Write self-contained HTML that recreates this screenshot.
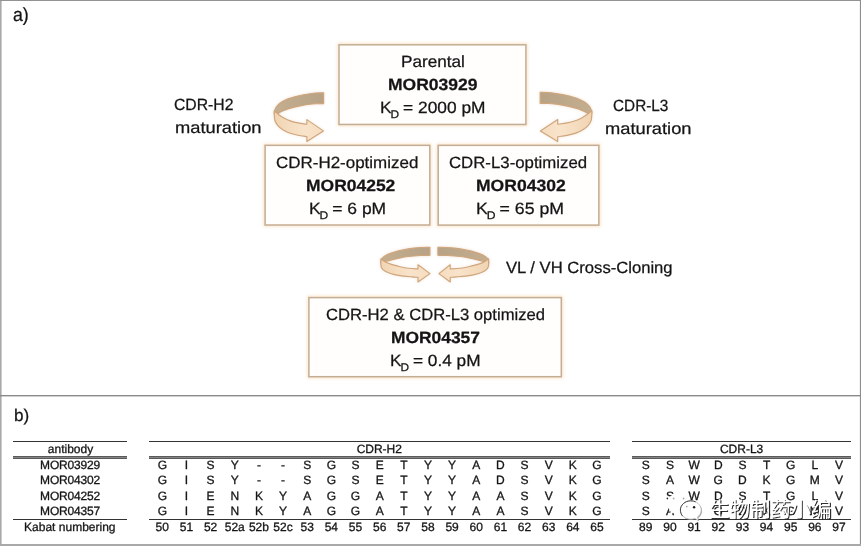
<!DOCTYPE html>
<html><head><meta charset="utf-8"><title>Affinity maturation</title>
<style>
html,body{margin:0;padding:0;background:#fff;}
body{width:861px;height:546px;position:relative;overflow:hidden;font-family:"Liberation Sans",sans-serif;color:#1a1a1a;}
.t{position:absolute;white-space:nowrap;font-size:16.8px;line-height:20px;color:#141414;transform-origin:0 0;-webkit-text-stroke:0.25px #141414;text-rendering:geometricPrecision;}
.t b{font-weight:bold;}
.t sub{font-size:11.2px;vertical-align:baseline;position:relative;top:4.9px;line-height:0;margin:0 -0.8px 0 -1px;}
.c{position:absolute;width:40px;text-align:center;font-size:12px;line-height:14px;white-space:nowrap;color:#151515;-webkit-text-stroke:0.3px #151515;text-rendering:geometricPrecision;}
.w{width:120px;margin-left:-40px;}
.nm{letter-spacing:-0.2px;}
.ln{position:absolute;background:#333;}
svg{position:absolute;left:0;top:0;}
</style></head><body>
<svg width="861" height="546" viewBox="0 0 861 546"><rect x="0" y="0" width="861" height="546" fill="#fff"/><rect x="0" y="0" width="1.6" height="546" fill="#a9a9a9"/><rect x="859.9" y="0" width="1.1" height="546" fill="#8e8e8e"/><rect x="0" y="0" width="861" height="1" fill="#929292"/><rect x="0" y="544" width="861" height="2" fill="#a9a9a9"/><rect x="0" y="395.0" width="861" height="1.4" fill="#8a8a8a"/></svg>

<svg width="861" height="546" viewBox="0 0 861 546"><defs><filter id="gl" x="-10%" y="-10%" width="120%" height="120%"><feGaussianBlur stdDeviation="1.6"/></filter></defs>
<g fill="#fffdfa" stroke="#f6cfa0" stroke-width="3.5" opacity=".55" filter="url(#gl)"><rect x="339.0" y="44.8" width="186.90" height="79.65"/><rect x="265.1" y="145.35" width="164.70" height="79.65"/><rect x="438.2" y="145.35" width="160.65" height="79.75"/><rect x="308.9" y="297.6" width="252.40" height="79.10"/></g>
<g fill="#fffefc" stroke="#c4ad93" stroke-width="1.5"><rect x="339.0" y="44.8" width="186.90" height="79.65"/><rect x="265.1" y="145.35" width="164.70" height="79.65"/><rect x="438.2" y="145.35" width="160.65" height="79.75"/><rect x="308.9" y="297.6" width="252.40" height="79.10"/></g></svg>
<svg width="861" height="546" viewBox="0 0 861 546"><defs><filter id="ga" x="-20%" y="-20%" width="140%" height="140%"><feGaussianBlur stdDeviation="1.8"/></filter></defs><g opacity=".35" filter="url(#ga)"><defs><linearGradient id="lgL" x1="0" x2="1" y1="0" y2="0"><stop offset="0" stop-color="#f1d5b3"/><stop offset=".6" stop-color="#f8e3ca"/><stop offset="1" stop-color="#f6dcc0"/></linearGradient><linearGradient id="lgR" x1="1" x2="0" y1="0" y2="0"><stop offset="0" stop-color="#f1d5b3"/><stop offset=".6" stop-color="#f8e3ca"/><stop offset="1" stop-color="#f6dcc0"/></linearGradient><linearGradient id="dgL" x1="0" x2="1" y1="0" y2="0"><stop offset="0" stop-color="#c4ae90"/><stop offset="1" stop-color="#b7a285"/></linearGradient><linearGradient id="dgR" x1="1" x2="0" y1="0" y2="0"><stop offset="0" stop-color="#c4ae90"/><stop offset="1" stop-color="#b7a285"/></linearGradient></defs><path d="M323.60,92.80 C322.33,92.83 318.28,92.85 316.00,93.00 C313.72,93.15 312.37,93.33 309.90,93.70 C307.43,94.07 303.70,94.70 301.20,95.20 C298.70,95.70 296.98,96.13 294.90,96.70 C292.82,97.27 290.77,97.78 288.70,98.60 C286.63,99.42 284.27,100.55 282.50,101.60 C280.73,102.65 279.25,103.80 278.10,104.90 C276.95,106.00 276.20,107.12 275.60,108.20 C275.00,109.28 274.72,110.50 274.50,111.40 C274.28,112.30 274.33,113.23 274.30,113.60 L276.90,114.30 C277.10,114.17 277.17,114.03 278.10,113.50 C279.03,112.97 280.73,111.92 282.50,111.10 C284.27,110.28 286.63,109.28 288.70,108.60 C290.77,107.92 292.82,107.50 294.90,107.00 C296.98,106.50 298.70,106.07 301.20,105.60 C303.70,105.13 307.43,104.51 309.90,104.20 C312.37,103.89 313.72,103.85 316.00,103.75 C318.28,103.65 322.33,103.62 323.60,103.60 Z" fill="url(#dgL)" stroke="#cfa57c" stroke-width="1.15" stroke-linejoin="round"/><path d="M274.30,110.60 L274.20,113.60 C274.32,114.75 274.32,118.55 274.90,120.50 C275.48,122.45 276.43,123.80 277.70,125.30 C278.97,126.80 280.53,128.22 282.50,129.50 C284.47,130.78 286.93,132.05 289.50,133.00 C292.07,133.95 295.00,134.60 297.90,135.20 C300.80,135.80 305.40,136.37 306.90,136.60 L306.90,141.40 L323.40,130.90 L306.90,119.60 L306.90,124.30 C305.40,124.07 300.57,123.43 297.90,122.90 C295.23,122.37 293.23,121.92 290.90,121.10 C288.57,120.28 285.98,119.12 283.90,118.00 C281.82,116.88 279.78,115.40 278.40,114.40 C277.02,113.40 276.28,112.63 275.60,112.00 C274.92,111.37 274.52,110.83 274.30,110.60 Z" fill="url(#lgL)" stroke="#cfa57c" stroke-width="1.15" stroke-linejoin="round"/><path d="M540.20,92.40 C541.53,92.44 545.76,92.45 548.15,92.60 C550.54,92.76 551.96,92.94 554.54,93.31 C557.12,93.68 561.03,94.33 563.64,94.83 C566.26,95.34 568.06,95.78 570.24,96.35 C572.42,96.92 574.56,97.45 576.72,98.27 C578.89,99.10 581.36,100.25 583.21,101.31 C585.06,102.37 586.61,103.54 587.82,104.65 C589.02,105.76 589.81,106.90 590.43,107.99 C591.06,109.09 591.36,110.32 591.59,111.23 C591.81,112.14 591.76,113.09 591.80,113.46 L589.07,114.17 C588.86,114.03 588.80,113.90 587.82,113.36 C586.84,112.82 585.06,111.75 583.21,110.93 C581.36,110.10 578.89,109.09 576.72,108.40 C574.56,107.70 572.42,107.28 570.24,106.78 C568.06,106.27 566.26,105.83 563.64,105.36 C561.03,104.89 557.12,104.25 554.54,103.94 C551.96,103.63 550.54,103.59 548.15,103.49 C545.76,103.39 541.53,103.36 540.20,103.34 Z" fill="url(#dgR)" stroke="#cfa57c" stroke-width="1.15" stroke-linejoin="round"/><path d="M591.80,110.42 L591.90,113.46 C591.78,114.62 591.78,118.47 591.17,120.44 C590.56,122.42 589.56,123.78 588.24,125.30 C586.91,126.82 585.27,128.25 583.21,129.55 C581.16,130.85 578.57,132.14 575.89,133.10 C573.20,134.06 570.13,134.72 567.10,135.32 C564.06,135.93 559.25,136.50 557.68,136.74 L557.68,141.60 L540.41,130.97 L557.68,119.53 L557.68,124.29 C559.25,124.05 564.31,123.41 567.10,122.87 C569.89,122.33 571.98,121.88 574.42,121.05 C576.86,120.22 579.57,119.04 581.75,117.91 C583.93,116.78 586.06,115.28 587.50,114.27 C588.95,113.26 589.72,112.48 590.43,111.84 C591.15,111.20 591.57,110.66 591.80,110.42 Z" fill="url(#lgR)" stroke="#cfa57c" stroke-width="1.15" stroke-linejoin="round"/><path d="M429.90,247.20 C428.30,247.25 423.92,247.22 420.30,247.50 C416.68,247.78 411.83,248.33 408.20,248.90 C404.57,249.47 401.45,250.15 398.50,250.90 C395.55,251.65 392.77,252.55 390.50,253.40 C388.23,254.25 386.33,255.12 384.90,256.00 C383.47,256.88 382.57,257.82 381.90,258.70 C381.23,259.58 381.08,260.58 380.90,261.30 C380.72,262.02 380.82,262.72 380.80,263.00 L383.20,262.20 C383.48,262.10 383.68,261.95 384.90,261.60 C386.12,261.25 388.23,260.67 390.50,260.10 C392.77,259.53 395.55,258.80 398.50,258.20 C401.45,257.60 404.57,256.95 408.20,256.50 C411.83,256.05 416.68,255.70 420.30,255.50 C423.92,255.30 428.30,255.33 429.90,255.30 Z" fill="url(#dgL)" stroke="#cfa57c" stroke-width="1.15" stroke-linejoin="round"/><path d="M380.90,258.80 L380.80,263.00 C380.85,263.57 380.78,265.35 381.10,266.40 C381.42,267.45 381.67,268.32 382.70,269.30 C383.73,270.28 385.33,271.42 387.30,272.30 C389.27,273.18 391.82,273.97 394.50,274.60 C397.18,275.23 400.45,275.72 403.40,276.10 C406.35,276.48 409.77,276.70 412.20,276.90 C414.63,277.10 417.03,277.23 418.00,277.30 L418.00,282.00 L430.00,273.60 L418.00,264.80 L418.00,269.00 C416.37,268.87 411.17,268.58 408.20,268.20 C405.23,267.82 402.88,267.30 400.20,266.70 C397.52,266.10 394.38,265.28 392.10,264.60 C389.82,263.92 388.05,263.30 386.50,262.60 C384.95,261.90 383.73,261.03 382.80,260.40 C381.87,259.77 381.22,259.07 380.90,258.80 Z" fill="url(#lgL)" stroke="#cfa57c" stroke-width="1.15" stroke-linejoin="round"/><path d="M437.90,247.20 C439.56,247.25 444.09,247.22 447.83,247.50 C451.57,247.78 456.59,248.33 460.35,248.90 C464.11,249.47 467.34,250.15 470.39,250.90 C473.44,251.65 476.32,252.55 478.66,253.40 C481.01,254.25 482.98,255.12 484.46,256.00 C485.94,256.88 486.87,257.82 487.56,258.70 C488.25,259.58 488.41,260.58 488.60,261.30 C488.79,262.02 488.68,262.72 488.70,263.00 L486.22,262.20 C485.92,262.10 485.72,261.95 484.46,261.60 C483.20,261.25 481.01,260.67 478.66,260.10 C476.32,259.53 473.44,258.80 470.39,258.20 C467.34,257.60 464.11,256.95 460.35,256.50 C456.59,256.05 451.57,255.70 447.83,255.50 C444.09,255.30 439.56,255.33 437.90,255.30 Z" fill="url(#dgR)" stroke="#cfa57c" stroke-width="1.15" stroke-linejoin="round"/><path d="M488.60,258.80 L488.70,263.00 C488.65,263.57 488.72,265.35 488.39,266.40 C488.06,267.45 487.80,268.32 486.73,269.30 C485.67,270.28 484.01,271.42 481.97,272.30 C479.94,273.18 477.30,273.97 474.53,274.60 C471.75,275.23 468.37,275.72 465.32,276.10 C462.27,276.48 458.73,276.70 456.21,276.90 C453.70,277.10 451.21,277.23 450.21,277.30 L450.21,282.00 L438.90,273.60 L450.21,264.80 L450.21,269.00 C451.90,268.87 457.28,268.58 460.35,268.20 C463.42,267.82 465.85,267.30 468.63,266.70 C471.40,266.10 474.65,265.28 477.01,264.60 C479.37,263.92 481.20,263.30 482.80,262.60 C484.41,261.90 485.67,261.03 486.63,260.40 C487.60,259.77 488.27,259.07 488.60,258.80 Z" fill="url(#lgR)" stroke="#cfa57c" stroke-width="1.15" stroke-linejoin="round"/></g><path d="M323.60,92.80 C322.33,92.83 318.28,92.85 316.00,93.00 C313.72,93.15 312.37,93.33 309.90,93.70 C307.43,94.07 303.70,94.70 301.20,95.20 C298.70,95.70 296.98,96.13 294.90,96.70 C292.82,97.27 290.77,97.78 288.70,98.60 C286.63,99.42 284.27,100.55 282.50,101.60 C280.73,102.65 279.25,103.80 278.10,104.90 C276.95,106.00 276.20,107.12 275.60,108.20 C275.00,109.28 274.72,110.50 274.50,111.40 C274.28,112.30 274.33,113.23 274.30,113.60 L276.90,114.30 C277.10,114.17 277.17,114.03 278.10,113.50 C279.03,112.97 280.73,111.92 282.50,111.10 C284.27,110.28 286.63,109.28 288.70,108.60 C290.77,107.92 292.82,107.50 294.90,107.00 C296.98,106.50 298.70,106.07 301.20,105.60 C303.70,105.13 307.43,104.51 309.90,104.20 C312.37,103.89 313.72,103.85 316.00,103.75 C318.28,103.65 322.33,103.62 323.60,103.60 Z" fill="url(#dgL)" stroke="#cfa57c" stroke-width="1.15" stroke-linejoin="round"/><path d="M274.30,110.60 L274.20,113.60 C274.32,114.75 274.32,118.55 274.90,120.50 C275.48,122.45 276.43,123.80 277.70,125.30 C278.97,126.80 280.53,128.22 282.50,129.50 C284.47,130.78 286.93,132.05 289.50,133.00 C292.07,133.95 295.00,134.60 297.90,135.20 C300.80,135.80 305.40,136.37 306.90,136.60 L306.90,141.40 L323.40,130.90 L306.90,119.60 L306.90,124.30 C305.40,124.07 300.57,123.43 297.90,122.90 C295.23,122.37 293.23,121.92 290.90,121.10 C288.57,120.28 285.98,119.12 283.90,118.00 C281.82,116.88 279.78,115.40 278.40,114.40 C277.02,113.40 276.28,112.63 275.60,112.00 C274.92,111.37 274.52,110.83 274.30,110.60 Z" fill="url(#lgL)" stroke="#cfa57c" stroke-width="1.15" stroke-linejoin="round"/><path d="M540.20,92.40 C541.53,92.44 545.76,92.45 548.15,92.60 C550.54,92.76 551.96,92.94 554.54,93.31 C557.12,93.68 561.03,94.33 563.64,94.83 C566.26,95.34 568.06,95.78 570.24,96.35 C572.42,96.92 574.56,97.45 576.72,98.27 C578.89,99.10 581.36,100.25 583.21,101.31 C585.06,102.37 586.61,103.54 587.82,104.65 C589.02,105.76 589.81,106.90 590.43,107.99 C591.06,109.09 591.36,110.32 591.59,111.23 C591.81,112.14 591.76,113.09 591.80,113.46 L589.07,114.17 C588.86,114.03 588.80,113.90 587.82,113.36 C586.84,112.82 585.06,111.75 583.21,110.93 C581.36,110.10 578.89,109.09 576.72,108.40 C574.56,107.70 572.42,107.28 570.24,106.78 C568.06,106.27 566.26,105.83 563.64,105.36 C561.03,104.89 557.12,104.25 554.54,103.94 C551.96,103.63 550.54,103.59 548.15,103.49 C545.76,103.39 541.53,103.36 540.20,103.34 Z" fill="url(#dgR)" stroke="#cfa57c" stroke-width="1.15" stroke-linejoin="round"/><path d="M591.80,110.42 L591.90,113.46 C591.78,114.62 591.78,118.47 591.17,120.44 C590.56,122.42 589.56,123.78 588.24,125.30 C586.91,126.82 585.27,128.25 583.21,129.55 C581.16,130.85 578.57,132.14 575.89,133.10 C573.20,134.06 570.13,134.72 567.10,135.32 C564.06,135.93 559.25,136.50 557.68,136.74 L557.68,141.60 L540.41,130.97 L557.68,119.53 L557.68,124.29 C559.25,124.05 564.31,123.41 567.10,122.87 C569.89,122.33 571.98,121.88 574.42,121.05 C576.86,120.22 579.57,119.04 581.75,117.91 C583.93,116.78 586.06,115.28 587.50,114.27 C588.95,113.26 589.72,112.48 590.43,111.84 C591.15,111.20 591.57,110.66 591.80,110.42 Z" fill="url(#lgR)" stroke="#cfa57c" stroke-width="1.15" stroke-linejoin="round"/><path d="M429.90,247.20 C428.30,247.25 423.92,247.22 420.30,247.50 C416.68,247.78 411.83,248.33 408.20,248.90 C404.57,249.47 401.45,250.15 398.50,250.90 C395.55,251.65 392.77,252.55 390.50,253.40 C388.23,254.25 386.33,255.12 384.90,256.00 C383.47,256.88 382.57,257.82 381.90,258.70 C381.23,259.58 381.08,260.58 380.90,261.30 C380.72,262.02 380.82,262.72 380.80,263.00 L383.20,262.20 C383.48,262.10 383.68,261.95 384.90,261.60 C386.12,261.25 388.23,260.67 390.50,260.10 C392.77,259.53 395.55,258.80 398.50,258.20 C401.45,257.60 404.57,256.95 408.20,256.50 C411.83,256.05 416.68,255.70 420.30,255.50 C423.92,255.30 428.30,255.33 429.90,255.30 Z" fill="url(#dgL)" stroke="#cfa57c" stroke-width="1.15" stroke-linejoin="round"/><path d="M380.90,258.80 L380.80,263.00 C380.85,263.57 380.78,265.35 381.10,266.40 C381.42,267.45 381.67,268.32 382.70,269.30 C383.73,270.28 385.33,271.42 387.30,272.30 C389.27,273.18 391.82,273.97 394.50,274.60 C397.18,275.23 400.45,275.72 403.40,276.10 C406.35,276.48 409.77,276.70 412.20,276.90 C414.63,277.10 417.03,277.23 418.00,277.30 L418.00,282.00 L430.00,273.60 L418.00,264.80 L418.00,269.00 C416.37,268.87 411.17,268.58 408.20,268.20 C405.23,267.82 402.88,267.30 400.20,266.70 C397.52,266.10 394.38,265.28 392.10,264.60 C389.82,263.92 388.05,263.30 386.50,262.60 C384.95,261.90 383.73,261.03 382.80,260.40 C381.87,259.77 381.22,259.07 380.90,258.80 Z" fill="url(#lgL)" stroke="#cfa57c" stroke-width="1.15" stroke-linejoin="round"/><path d="M437.90,247.20 C439.56,247.25 444.09,247.22 447.83,247.50 C451.57,247.78 456.59,248.33 460.35,248.90 C464.11,249.47 467.34,250.15 470.39,250.90 C473.44,251.65 476.32,252.55 478.66,253.40 C481.01,254.25 482.98,255.12 484.46,256.00 C485.94,256.88 486.87,257.82 487.56,258.70 C488.25,259.58 488.41,260.58 488.60,261.30 C488.79,262.02 488.68,262.72 488.70,263.00 L486.22,262.20 C485.92,262.10 485.72,261.95 484.46,261.60 C483.20,261.25 481.01,260.67 478.66,260.10 C476.32,259.53 473.44,258.80 470.39,258.20 C467.34,257.60 464.11,256.95 460.35,256.50 C456.59,256.05 451.57,255.70 447.83,255.50 C444.09,255.30 439.56,255.33 437.90,255.30 Z" fill="url(#dgR)" stroke="#cfa57c" stroke-width="1.15" stroke-linejoin="round"/><path d="M488.60,258.80 L488.70,263.00 C488.65,263.57 488.72,265.35 488.39,266.40 C488.06,267.45 487.80,268.32 486.73,269.30 C485.67,270.28 484.01,271.42 481.97,272.30 C479.94,273.18 477.30,273.97 474.53,274.60 C471.75,275.23 468.37,275.72 465.32,276.10 C462.27,276.48 458.73,276.70 456.21,276.90 C453.70,277.10 451.21,277.23 450.21,277.30 L450.21,282.00 L438.90,273.60 L450.21,264.80 L450.21,269.00 C451.90,268.87 457.28,268.58 460.35,268.20 C463.42,267.82 465.85,267.30 468.63,266.70 C471.40,266.10 474.65,265.28 477.01,264.60 C479.37,263.92 481.20,263.30 482.80,262.60 C484.41,261.90 485.67,261.03 486.63,260.40 C487.60,259.77 488.27,259.07 488.60,258.80 Z" fill="url(#lgR)" stroke="#cfa57c" stroke-width="1.15" stroke-linejoin="round"/></svg>

<!-- TEXTS -->
<div class="t" style="left:400.75px;top:52.35px;font-size:16.3px;transform:scaleX(1.0541);">Parental</div>
<div class="t" style="left:388.25px;top:75.35px;font-size:16.3px;transform:scaleX(1.0752);"><b>MOR03929</b></div>
<div class="t" style="left:380.00px;top:98.35px;font-size:16.3px;transform:scaleX(1.0648);">K<sub>D</sub> = 2000 pM</div>
<div class="t" style="left:276.00px;top:153.35px;font-size:16.3px;transform:scaleX(1.0419);">CDR-H2-optimized</div>
<div class="t" style="left:305.50px;top:176.35px;font-size:16.3px;transform:scaleX(1.0728);"><b>MOR04252</b></div>
<div class="t" style="left:309.25px;top:199.35px;font-size:16.3px;transform:scaleX(1.0727);">K<sub>D</sub> = 6 pM</div>
<div class="t" style="left:449.00px;top:153.35px;font-size:16.3px;transform:scaleX(1.0310);">CDR-L3-optimized</div>
<div class="t" style="left:476.25px;top:176.35px;font-size:16.3px;transform:scaleX(1.0771);"><b>MOR04302</b></div>
<div class="t" style="left:475.50px;top:199.35px;font-size:16.3px;transform:scaleX(1.0873);">K<sub>D</sub> = 65 pM</div>
<div class="t" style="left:325.75px;top:305.35px;font-size:16.3px;transform:scaleX(1.0216);">CDR-H2 &amp; CDR-L3 optimized</div>
<div class="t" style="left:391.25px;top:328.35px;font-size:16.3px;transform:scaleX(1.0685);"><b>MOR04357</b></div>
<div class="t" style="left:390.25px;top:351.35px;font-size:16.3px;transform:scaleX(1.0584);">K<sub>D</sub> = 0.4 pM</div>
<div class="t" style="left:174.25px;top:95.35px;font-size:16.3px;transform:scaleX(0.9667);">CDR-H2</div>
<div class="t" style="left:174.75px;top:118.35px;font-size:16.3px;transform:scaleX(1.1253);">maturation</div>
<div class="t" style="left:612.75px;top:96.35px;font-size:16.3px;transform:scaleX(0.9409);">CDR-L3</div>
<div class="t" style="left:604.75px;top:119.35px;font-size:16.3px;transform:scaleX(1.1253);">maturation</div>
<div class="t" style="left:505.50px;top:258.35px;font-size:16.3px;transform:scaleX(1.0210);">VL / VH Cross-Cloning</div>
<div class="t" style="left:12.75px;top:6.41px;font-size:19px;transform:scaleX(0.9333);">a)</div>
<div class="t" style="left:13.50px;top:406.11px;font-size:17px;transform:scaleX(1.0077);">b)</div>

<!-- table -->
<div class="ln" style="left:13.2px;top:440.8px;width:113.4px;height:1px;"></div>
<div class="ln" style="left:149.4px;top:440.8px;width:460.2px;height:1px;"></div>
<div class="ln" style="left:632px;top:440.8px;width:219px;height:1px;"></div>
<div class="ln" style="left:13.2px;top:456px;width:113.4px;height:3px;background:linear-gradient(#5a5a5a 0,#5a5a5a 34%,#858585 34%,#858585 66%,#5a5a5a 66%);"></div>
<div class="ln" style="left:149.4px;top:456px;width:460.2px;height:3px;background:linear-gradient(#5a5a5a 0,#5a5a5a 34%,#858585 34%,#858585 66%,#5a5a5a 66%);"></div>
<div class="ln" style="left:632px;top:456px;width:219px;height:3px;background:linear-gradient(#5a5a5a 0,#5a5a5a 34%,#858585 34%,#858585 66%,#5a5a5a 66%);"></div>
<div class="ln" style="left:13.2px;top:519.2px;width:113.4px;height:1px;"></div>
<div class="ln" style="left:149.4px;top:519.2px;width:460.2px;height:1px;"></div>
<div class="ln" style="left:632px;top:519.2px;width:219px;height:1px;"></div>
<div style="position:absolute;left:0;top:0;width:861px;height:546px;will-change:transform;opacity:.999">
<span class="c w nm" style="left:50.00px;top:457.90px">MOR03929</span>
<span class="c" style="left:142.30px;top:457.90px">G</span>
<span class="c" style="left:166.45px;top:457.90px">I</span>
<span class="c" style="left:190.60px;top:457.90px">S</span>
<span class="c" style="left:214.75px;top:457.90px">Y</span>
<span class="c" style="left:238.90px;top:457.90px">-</span>
<span class="c" style="left:263.05px;top:457.90px">-</span>
<span class="c" style="left:287.20px;top:457.90px">S</span>
<span class="c" style="left:311.35px;top:457.90px">G</span>
<span class="c" style="left:335.50px;top:457.90px">S</span>
<span class="c" style="left:359.65px;top:457.90px">E</span>
<span class="c" style="left:383.80px;top:457.90px">T</span>
<span class="c" style="left:407.95px;top:457.90px">Y</span>
<span class="c" style="left:432.10px;top:457.90px">Y</span>
<span class="c" style="left:456.25px;top:457.90px">A</span>
<span class="c" style="left:480.40px;top:457.90px">D</span>
<span class="c" style="left:504.55px;top:457.90px">S</span>
<span class="c" style="left:528.70px;top:457.90px">V</span>
<span class="c" style="left:552.85px;top:457.90px">K</span>
<span class="c" style="left:577.00px;top:457.90px">G</span>
<span class="c" style="left:625.80px;top:457.90px">S</span>
<span class="c" style="left:649.95px;top:457.90px">S</span>
<span class="c" style="left:674.10px;top:457.90px">W</span>
<span class="c" style="left:698.25px;top:457.90px">D</span>
<span class="c" style="left:722.40px;top:457.90px">S</span>
<span class="c" style="left:746.55px;top:457.90px">T</span>
<span class="c" style="left:770.70px;top:457.90px">G</span>
<span class="c" style="left:794.85px;top:457.90px">L</span>
<span class="c" style="left:819.00px;top:457.90px">V</span>
<span class="c w nm" style="left:50.00px;top:473.20px">MOR04302</span>
<span class="c" style="left:142.30px;top:473.20px">G</span>
<span class="c" style="left:166.45px;top:473.20px">I</span>
<span class="c" style="left:190.60px;top:473.20px">S</span>
<span class="c" style="left:214.75px;top:473.20px">Y</span>
<span class="c" style="left:238.90px;top:473.20px">-</span>
<span class="c" style="left:263.05px;top:473.20px">-</span>
<span class="c" style="left:287.20px;top:473.20px">S</span>
<span class="c" style="left:311.35px;top:473.20px">G</span>
<span class="c" style="left:335.50px;top:473.20px">S</span>
<span class="c" style="left:359.65px;top:473.20px">E</span>
<span class="c" style="left:383.80px;top:473.20px">T</span>
<span class="c" style="left:407.95px;top:473.20px">Y</span>
<span class="c" style="left:432.10px;top:473.20px">Y</span>
<span class="c" style="left:456.25px;top:473.20px">A</span>
<span class="c" style="left:480.40px;top:473.20px">D</span>
<span class="c" style="left:504.55px;top:473.20px">S</span>
<span class="c" style="left:528.70px;top:473.20px">V</span>
<span class="c" style="left:552.85px;top:473.20px">K</span>
<span class="c" style="left:577.00px;top:473.20px">G</span>
<span class="c" style="left:625.80px;top:473.20px">S</span>
<span class="c" style="left:649.95px;top:473.20px">A</span>
<span class="c" style="left:674.10px;top:473.20px">W</span>
<span class="c" style="left:698.25px;top:473.20px">G</span>
<span class="c" style="left:722.40px;top:473.20px">D</span>
<span class="c" style="left:746.55px;top:473.20px">K</span>
<span class="c" style="left:770.70px;top:473.20px">G</span>
<span class="c" style="left:794.85px;top:473.20px">M</span>
<span class="c" style="left:819.00px;top:473.20px">V</span>
<span class="c w nm" style="left:50.00px;top:489.00px">MOR04252</span>
<span class="c" style="left:142.30px;top:489.00px">G</span>
<span class="c" style="left:166.45px;top:489.00px">I</span>
<span class="c" style="left:190.60px;top:489.00px">E</span>
<span class="c" style="left:214.75px;top:489.00px">N</span>
<span class="c" style="left:238.90px;top:489.00px">K</span>
<span class="c" style="left:263.05px;top:489.00px">Y</span>
<span class="c" style="left:287.20px;top:489.00px">A</span>
<span class="c" style="left:311.35px;top:489.00px">G</span>
<span class="c" style="left:335.50px;top:489.00px">G</span>
<span class="c" style="left:359.65px;top:489.00px">A</span>
<span class="c" style="left:383.80px;top:489.00px">T</span>
<span class="c" style="left:407.95px;top:489.00px">Y</span>
<span class="c" style="left:432.10px;top:489.00px">Y</span>
<span class="c" style="left:456.25px;top:489.00px">A</span>
<span class="c" style="left:480.40px;top:489.00px">A</span>
<span class="c" style="left:504.55px;top:489.00px">S</span>
<span class="c" style="left:528.70px;top:489.00px">V</span>
<span class="c" style="left:552.85px;top:489.00px">K</span>
<span class="c" style="left:577.00px;top:489.00px">G</span>
<span class="c" style="left:625.80px;top:489.00px">S</span>
<span class="c" style="left:649.95px;top:489.00px">S</span>
<span class="c" style="left:674.10px;top:489.00px">W</span>
<span class="c" style="left:698.25px;top:489.00px">D</span>
<span class="c" style="left:722.40px;top:489.00px">S</span>
<span class="c" style="left:746.55px;top:489.00px">T</span>
<span class="c" style="left:770.70px;top:489.00px">G</span>
<span class="c" style="left:794.85px;top:489.00px">L</span>
<span class="c" style="left:819.00px;top:489.00px">V</span>
<span class="c w nm" style="left:50.00px;top:504.40px">MOR04357</span>
<span class="c" style="left:142.30px;top:504.40px">G</span>
<span class="c" style="left:166.45px;top:504.40px">I</span>
<span class="c" style="left:190.60px;top:504.40px">E</span>
<span class="c" style="left:214.75px;top:504.40px">N</span>
<span class="c" style="left:238.90px;top:504.40px">K</span>
<span class="c" style="left:263.05px;top:504.40px">Y</span>
<span class="c" style="left:287.20px;top:504.40px">A</span>
<span class="c" style="left:311.35px;top:504.40px">G</span>
<span class="c" style="left:335.50px;top:504.40px">G</span>
<span class="c" style="left:359.65px;top:504.40px">A</span>
<span class="c" style="left:383.80px;top:504.40px">T</span>
<span class="c" style="left:407.95px;top:504.40px">Y</span>
<span class="c" style="left:432.10px;top:504.40px">Y</span>
<span class="c" style="left:456.25px;top:504.40px">A</span>
<span class="c" style="left:480.40px;top:504.40px">A</span>
<span class="c" style="left:504.55px;top:504.40px">S</span>
<span class="c" style="left:528.70px;top:504.40px">V</span>
<span class="c" style="left:552.85px;top:504.40px">K</span>
<span class="c" style="left:577.00px;top:504.40px">G</span>
<span class="c" style="left:625.80px;top:504.40px">S</span>
<span class="c" style="left:649.95px;top:504.40px">A</span>
<span class="c" style="left:674.10px;top:504.40px">W</span>
<span class="c" style="left:698.25px;top:504.40px">G</span>
<span class="c" style="left:722.40px;top:504.40px">D</span>
<span class="c" style="left:746.55px;top:504.40px">K</span>
<span class="c" style="left:770.70px;top:504.40px">G</span>
<span class="c" style="left:794.85px;top:504.40px">M</span>
<span class="c" style="left:819.00px;top:504.40px">V</span>
<span class="c w" style="left:49.80px;top:519.50px">Kabat numbering</span>
<span class="c" style="left:142.30px;top:519.50px">50</span>
<span class="c" style="left:166.45px;top:519.50px">51</span>
<span class="c" style="left:190.60px;top:519.50px">52</span>
<span class="c" style="left:214.75px;top:519.50px">52a</span>
<span class="c" style="left:238.90px;top:519.50px">52b</span>
<span class="c" style="left:263.05px;top:519.50px">52c</span>
<span class="c" style="left:287.20px;top:519.50px">53</span>
<span class="c" style="left:311.35px;top:519.50px">54</span>
<span class="c" style="left:335.50px;top:519.50px">55</span>
<span class="c" style="left:359.65px;top:519.50px">56</span>
<span class="c" style="left:383.80px;top:519.50px">57</span>
<span class="c" style="left:407.95px;top:519.50px">58</span>
<span class="c" style="left:432.10px;top:519.50px">59</span>
<span class="c" style="left:456.25px;top:519.50px">60</span>
<span class="c" style="left:480.40px;top:519.50px">61</span>
<span class="c" style="left:504.55px;top:519.50px">62</span>
<span class="c" style="left:528.70px;top:519.50px">63</span>
<span class="c" style="left:552.85px;top:519.50px">64</span>
<span class="c" style="left:577.00px;top:519.50px">65</span>
<span class="c" style="left:625.80px;top:519.50px">89</span>
<span class="c" style="left:649.95px;top:519.50px">90</span>
<span class="c" style="left:674.10px;top:519.50px">91</span>
<span class="c" style="left:698.25px;top:519.50px">92</span>
<span class="c" style="left:722.40px;top:519.50px">93</span>
<span class="c" style="left:746.55px;top:519.50px">94</span>
<span class="c" style="left:770.70px;top:519.50px">95</span>
<span class="c" style="left:794.85px;top:519.50px">96</span>
<span class="c" style="left:819.00px;top:519.50px">97</span>
<span class="c w" style="left:50.50px;top:441.70px">antibody</span>
<span class="c w" style="left:359.30px;top:441.70px">CDR-H2</span>
<span class="c w" style="left:721.60px;top:441.70px">CDR-L3</span>
</div>
<svg width="861" height="546" viewBox="0 0 861 546" style="position:absolute;left:0;top:0">
<g fill="#1a1a1a" opacity=".9" transform="translate(1.1,1.1)"><text x="709.3" y="517" font-size="20.3" textLength="122.2" lengthAdjust="spacingAndGlyphs" font-family="&quot;Liberation Sans&quot;, &quot;Noto Sans CJK SC&quot;, sans-serif">生物制药小编</text></g>
<text x="709.3" y="517" font-size="20.3" textLength="122.2" lengthAdjust="spacingAndGlyphs" fill="#fff" font-family="&quot;Liberation Sans&quot;, &quot;Noto Sans CJK SC&quot;, sans-serif">生物制药小编</text>
<path d="M678,494.4 C684,494.4 688.6,498.4 688.6,503.4 C688.6,508.4 684,512.4 678,512.4 C676.6,512.4 675.3,512.2 674.1,511.8 L670.8,513.6 L671.6,510.6 C669,508.9 667.4,506.3 667.4,503.4 C667.4,498.4 672,494.4 678,494.4 Z" fill="#fff" stroke="#fff" stroke-width="1.2"/>
<path d="M690.8,500.8 C696.6,500.8 701.2,505 701.2,510 C701.2,512.9 699.7,515.4 697.4,517.1 L698.4,520.4 L694.8,518.5 C693.6,518.9 692.2,519.2 690.8,519.2 C685,519.2 680.4,515.1 680.4,510 C680.4,505 685,500.8 690.8,500.8 Z" fill="#777" opacity=".6" transform="translate(.9,.9)"/>
<path d="M690.8,500.8 C696.6,500.8 701.2,505 701.2,510 C701.2,512.9 699.7,515.4 697.4,517.1 L698.4,520.4 L694.8,518.5 C693.6,518.9 692.2,519.2 690.8,519.2 C685,519.2 680.4,515.1 680.4,510 C680.4,505 685,500.8 690.8,500.8 Z" fill="#fff" stroke="#aaa" stroke-width=".6"/>
<path d="M682.6,516.2 C681.2,514.5 680.4,512.3 680.4,510 C680.4,505 685,500.8 690.8,500.8 C692.6,500.8 694.2,501.2 695.7,501.9" fill="none" stroke="#333" stroke-width=".9"/>
<circle cx="673.6" cy="498.5" r=".9" fill="#aaa"/><circle cx="683.6" cy="498.5" r=".9" fill="#aaa"/>
<circle cx="686.8" cy="506.6" r=".8" fill="#999"/><circle cx="694.1" cy="507.3" r="1.2" fill="#222"/>
</svg>
</body></html>
